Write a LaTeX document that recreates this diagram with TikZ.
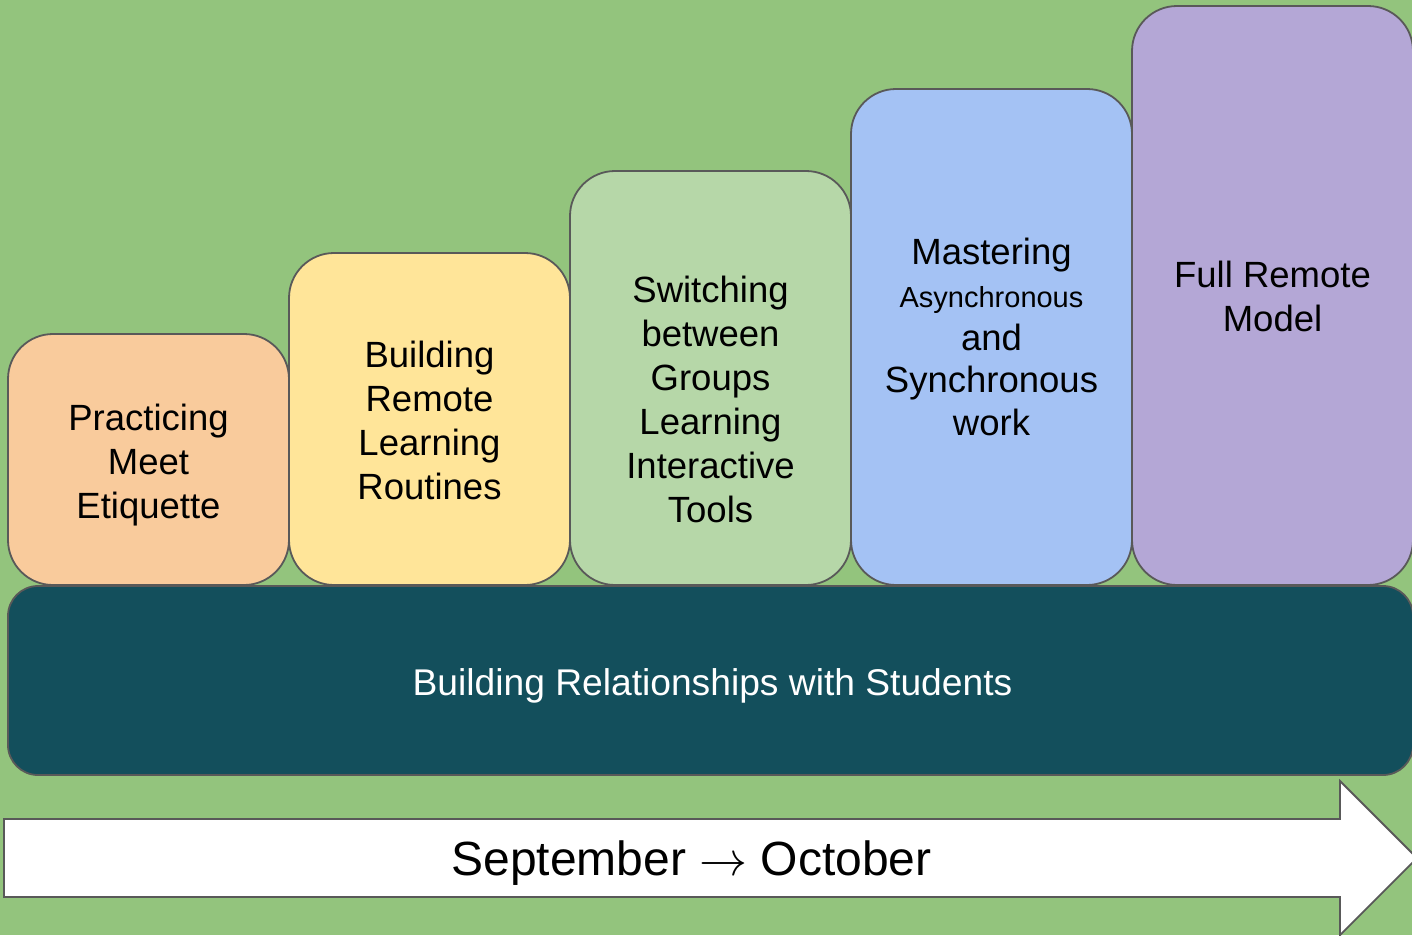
\documentclass[tikz,border=0pt]{standalone}
\usepackage{graphicx}
\usepackage{fontspec}
\setmainfont{Liberation Sans}
\definecolor{bg}{HTML}{93C47D}
\definecolor{cA}{HTML}{F9CB9C}
\definecolor{cB}{HTML}{FFE599}
\definecolor{cC}{HTML}{B6D7A8}
\definecolor{cD}{HTML}{A4C2F4}
\definecolor{cE}{HTML}{B4A7D6}
\definecolor{teal}{HTML}{134F5C}
\definecolor{edge}{HTML}{595959}
\newcommand\tstrut{\rule{0pt}{0.74em}}
\newcommand\bstrut{\rule[-0.22em]{0pt}{0.22em}}
\newcommand\bigarrow{\scalebox{4.8}{\normalsize$\rightarrow$}}
\begin{document}
\begin{tikzpicture}[x=1pt,y=-1pt,
  stage/.style={draw=edge, line width=1.8pt, rounded corners=45pt, inner sep=0pt, minimum width=281pt},
  lbl/.style={align=center, inner sep=0pt, font=\fontsize{36.5}{44}\selectfont}]
\fill[bg] (0,0) rectangle (1412,935);
\useasboundingbox (0,0) rectangle (1412,935);
% stage boxes
\node[stage, fill=cA, minimum height=251pt] (b1) at (148.5,459.5) {};
\node[stage, fill=cB, minimum height=332pt] (b2) at (429.5,419) {};
\node[stage, fill=cC, minimum height=414pt] (b3) at (710.5,378) {};
\node[stage, fill=cD, minimum height=496pt] (b4) at (991.5,337) {};
\node[stage, fill=cE, minimum height=579pt] (b5) at (1272.5,295.5) {};
% base bar
\node[draw=edge, line width=1.8pt, rounded corners=30pt, fill=teal, inner sep=0pt,
      minimum width=1405pt, minimum height=189pt] (base) at (710.5,680.5) {};
% timeline arrow
\coordinate (tailtop) at (4,819);
\coordinate (tailbot) at (4,897);
\coordinate (tip) at (1417,858);
\draw[draw=edge, line width=1.8pt, fill=white, line join=miter]
  (tailtop) -- (1340,819) -- (1340,781) -- (tip) -- (1340,935) -- (1340,897) -- (tailbot) -- cycle;
% texts
\node[lbl] (t1) at (148.5,464.5) {\tstrut Practicing\\Meet\\Etiquette\bstrut};
\node[lbl] (t2) at (429.5,424) {\tstrut Building\\Remote\\Learning\\Routines\bstrut};
\node[lbl] (t3) at (710.5,403) {\tstrut Switching\\between\\Groups\\Learning\\Interactive\\Tools\bstrut};
\node[lbl, font=\fontsize{36.5}{42.5}\selectfont] (t4) at (991.5,340.5)
  {\tstrut Mastering\\{\fontsize{29}{42.5}\selectfont Asynchronous}\\and\\Synchronous\\work\bstrut};
\node[lbl] (t5) at (1272.5,300.5) {\tstrut Full Remote\\Model\bstrut};
\node[lbl, text=white, font=\fontsize{37.2}{44}\selectfont] (tb) at (712.5,685.5) {\tstrut Building Relationships with Students\bstrut};
\node[lbl, font=\fontsize{48}{56}\selectfont] (ta) at (691.5,863.5) {\tstrut September \bigarrow{} October\bstrut};
\end{tikzpicture}
\end{document}
